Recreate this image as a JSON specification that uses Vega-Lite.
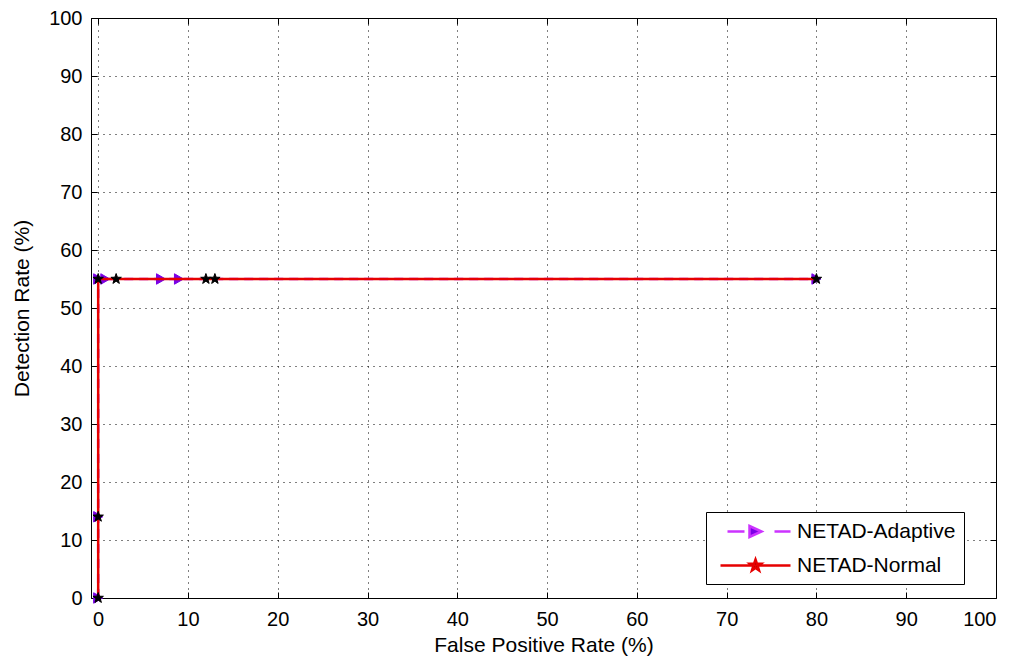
{
  "$schema": "https://vega.github.io/schema/vega-lite/v6.json",
  "width": 905,
  "height": 580,
  "autosize": "none",
  "padding": {"left": 91, "top": 18, "right": 23, "bottom": 64},
  "background": "white",
  "config": {
    "font": "Liberation Sans",
    "view": {"stroke": "black", "strokeWidth": 1},
    "axis": {
      "domain": false,
      "labelFont": "Liberation Sans",
      "labelFontSize": 20,
      "labelColor": "black",
      "titleFont": "Liberation Sans",
      "titleFontSize": 21,
      "titleFontWeight": "normal",
      "titleColor": "black",
      "tickColor": "black",
      "tickSize": -6,
      "gridColor": "black",
      "gridOpacity": 1,
      "gridDash": [1, 5],
      "gridWidth": 1
    }
  },
  "data": {
    "values": [
      {"series": "NETAD-Adaptive", "fpr": 0, "dr": 0, "step": 1},
      {"series": "NETAD-Adaptive", "fpr": 0, "dr": 14, "step": 2},
      {"series": "NETAD-Adaptive", "fpr": 0, "dr": 55, "step": 3},
      {"series": "NETAD-Adaptive", "fpr": 0.8, "dr": 55, "step": 4},
      {"series": "NETAD-Adaptive", "fpr": 7, "dr": 55, "step": 5},
      {"series": "NETAD-Adaptive", "fpr": 9, "dr": 55, "step": 6},
      {"series": "NETAD-Adaptive", "fpr": 80, "dr": 55, "step": 7},
      {"series": "NETAD-Normal", "fpr": 0, "dr": 0, "step": 1},
      {"series": "NETAD-Normal", "fpr": 0, "dr": 14, "step": 2},
      {"series": "NETAD-Normal", "fpr": 0, "dr": 55, "step": 3},
      {"series": "NETAD-Normal", "fpr": 2, "dr": 55, "step": 4},
      {"series": "NETAD-Normal", "fpr": 12, "dr": 55, "step": 5},
      {"series": "NETAD-Normal", "fpr": 13, "dr": 55, "step": 6},
      {"series": "NETAD-Normal", "fpr": 80, "dr": 55, "step": 7}
    ]
  },
  "resolve": {"axis": {"x": "independent", "y": "independent"}},
  "layer": [
    {
      "transform": [{"filter": "datum.series === 'NETAD-Adaptive'"}],
      "mark": {"type": "line", "strokeWidth": 2.5, "strokeDash": [9, 6]},
      "encoding": {
        "x": {
          "field": "fpr", "type": "quantitative",
          "scale": {"domain": [-0.8, 100], "nice": false, "zero": false},
          "axis": {"orient": "bottom", "values": [0, 10, 20, 30, 40, 50, 60, 70, 80, 90, 100], "title": "False Positive Rate (%)", "grid": true, "labelPadding": 17, "titlePadding": 5}
        },
        "y": {
          "field": "dr", "type": "quantitative",
          "scale": {"domain": [0, 100], "nice": false},
          "axis": {"orient": "left", "values": [0, 10, 20, 30, 40, 50, 60, 70, 80, 90, 100], "title": "Detection Rate (%)", "grid": true, "labelPadding": 15, "titlePadding": 16}
        },
        "order": {"field": "step"},
        "color": {
          "field": "series", "type": "nominal",
          "scale": {"domain": ["NETAD-Adaptive", "NETAD-Normal"], "range": ["#cc33ff", "#e60000"]},
          "legend": {
            "title": null,
            "orient": "none",
            "legendX": 615,
            "legendY": 494,
            "padding": 8,
            "strokeColor": "black",
            "fillColor": "white",
            "labelFont": "Liberation Sans",
            "labelFontSize": 21,
            "labelColor": "black",
            "symbolSize": 400,
            "symbolStrokeWidth": 2.5,
            "rowPadding": 12,
            "labelOffset": 60,
            "encode": {
              "symbols": {
                "update": {
                  "shape": {"signal": "datum.value === 'NETAD-Normal' ? 'M-0.5,0H6.5M3,-0.6L3.141,-0.194L3.571,-0.185L3.228,0.074L3.353,0.485L3,0.24L2.647,0.485L2.772,0.074L2.429,-0.185L2.859,-0.194Z' : 'M0.2,0H1.9M4.9,0H6.5M2.4,-0.55L3.6,0L2.4,0.55Z'"},
                  "fill": {"signal": "datum.value === 'NETAD-Normal' ? 'black' : '#7a00e6'"},
                  "stroke": {"signal": "datum.value === 'NETAD-Normal' ? '#e60000' : '#cc33ff'"},
                  "strokeDash": {"value": []},
                  "strokeWidth": {"value": 2.5},
                  "opacity": {"value": 1}
                }
              }
            }
          }
        }
      }
    },
    {
      "transform": [{"filter": "datum.series === 'NETAD-Adaptive'"}],
      "mark": {"type": "point", "shape": "triangle-right", "size": 110, "filled": true, "fill": "#7a00e6", "stroke": "#7a00e6", "strokeWidth": 1, "opacity": 1},
      "encoding": {
        "x": {"field": "fpr", "type": "quantitative", "axis": null},
        "y": {"field": "dr", "type": "quantitative", "axis": null}
      }
    },
    {
      "transform": [{"filter": "datum.series === 'NETAD-Normal'"}],
      "mark": {"type": "line", "strokeWidth": 2.5},
      "encoding": {
        "x": {
          "field": "fpr", "type": "quantitative",
          "axis": {"orient": "top", "values": [0, 10, 20, 30, 40, 50, 60, 70, 80, 90, 100], "labels": false, "title": null, "grid": false}
        },
        "y": {
          "field": "dr", "type": "quantitative",
          "axis": {"orient": "right", "values": [0, 10, 20, 30, 40, 50, 60, 70, 80, 90, 100], "labels": false, "title": null, "grid": false}
        },
        "order": {"field": "step"},
        "color": {"field": "series", "type": "nominal"}
      }
    },
    {
      "transform": [{"filter": "datum.series === 'NETAD-Normal'"}],
      "mark": {"type": "point", "shape": "M0,-1L0.235,-0.324L0.951,-0.309L0.38,0.124L0.588,0.809L0,0.4L-0.588,0.809L-0.38,0.124L-0.951,-0.309L-0.235,-0.324Z", "size": 120, "filled": true, "fill": "black", "stroke": "black", "strokeWidth": 1, "opacity": 1},
      "encoding": {
        "x": {"field": "fpr", "type": "quantitative", "axis": null},
        "y": {"field": "dr", "type": "quantitative", "axis": null}
      }
    }
  ]
}
